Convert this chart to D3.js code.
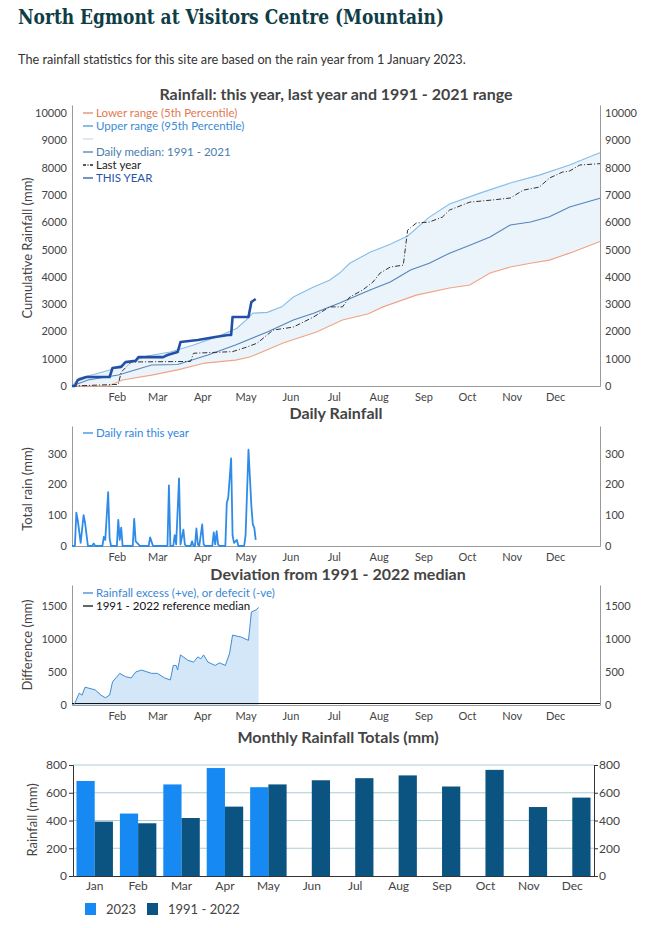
<!DOCTYPE html>
<html><head><meta charset="utf-8">
<script src="https://cdn.jsdelivr.net/npm/d3@7"></script>
<style>
body{margin:0;background:#fff}
svg text{font-family:Lato,"Open Sans",sans-serif}
</style>
</head><body>
<svg id="c" width="648" height="928"></svg>
<script>
// ---------- DATA ----------
const monthNames = ["Jan","Feb","Mar","Apr","May","Jun","Jul","Aug","Sep","Oct","Nov","Dec"];
const monthStartDays = [0,31,59,90,120,151,181,212,243,273,304,334];

// cumulative rainfall [dayOfYear, mm]
const pct5 = [[0,0],[25,0],[35,220],[55,400],[73,590],[92,840],[113,950],[123,1060],[146,1575],[169,1980],[187,2420],[205,2650],[215,2900],[238,3330],[261,3590],[275,3700],[289,4140],[303,4360],[317,4500],[330,4615],[344,4870],[365,5300]];
const pct95 = [[0,0],[5,290],[15,420],[26,590],[38,840],[52,1100],[68,1245],[84,1500],[100,1800],[114,2120],[122,2500],[125,2670],[135,2700],[145,2900],[153,3260],[167,3630],[178,3880],[185,4140],[192,4500],[206,4900],[220,5200],[232,5500],[247,6190],[261,6670],[282,7070],[303,7440],[323,7730],[344,8100],[360,8450],[365,8550]];
const median = [[0,0],[11,220],[32,400],[55,770],[73,790],[94,1135],[113,1500],[135,1980],[153,2420],[167,2670],[185,3040],[206,3520],[220,3810],[234,4250],[247,4500],[261,4870],[275,5160],[289,5460],[303,5900],[317,6010],[330,6200],[344,6560],[365,6880]];
const lastYear = [[0,0],[32,60],[34,510],[41,880],[82,900],[84,1200],[111,1260],[121,1430],[128,1570],[139,2050],[153,2160],[167,2530],[178,2900],[187,2900],[192,3260],[201,3520],[208,3810],[213,4140],[220,4360],[229,4430],[232,5710],[238,5970],[247,6010],[256,6190],[261,6450],[275,6740],[289,6810],[303,6890],[312,7180],[323,7290],[330,7620],[339,7840],[344,7880],[351,8100],[365,8150]];
const thisYear = [[0,0],[2,0],[4,220],[10,330],[26,330],[28,660],[34,700],[37,880],[44,920],[46,1060],[63,1060],[66,1135],[73,1245],[75,1610],[87,1685],[99,1795],[108,1870],[110,1870],[111,2530],[122,2530],[124,3080],[127,3190]];

// daily rain this year [day, mm]
const dailyRain = [[0,0],[2,0],[3,108],[4,83],[6,10],[8,100],[9,77],[11,0],[14,0],[15,8],[16,0],[21,0],[22,30],[23,20],[25,175],[26,25],[27,0],[31,0],[32,85],[33,20],[34,60],[35,0],[42,0],[43,88],[44,15],[46,5],[47,0],[53,0],[54,28],[56,0],[66,0],[67,197],[68,0],[70,0],[71,35],[72,5],[74,220],[75,5],[77,53],[78,5],[79,0],[82,0],[83,15],[84,0],[85,0],[86,57],[87,5],[88,0],[90,70],[91,5],[92,0],[97,0],[98,44],[99,5],[100,48],[101,5],[102,0],[106,0],[107,140],[108,157],[110,285],[111,35],[112,10],[114,20],[115,0],[119,0],[120,35],[122,313],[124,130],[125,70],[126,60],[127,20]];

// deviation from median [day, mm]
const deviation = [[1,0],[2,30],[5,180],[7,150],[9,270],[16,230],[20,150],[23,110],[26,150],[28,350],[33,480],[37,430],[41,410],[44,500],[48,530],[55,480],[59,480],[64,410],[68,380],[70,600],[72,600],[73,530],[75,760],[80,680],[84,650],[87,730],[89,700],[91,760],[94,650],[99,600],[102,640],[106,600],[109,790],[111,1060],[117,1030],[122,980],[124,1410],[127,1440],[129,1480]];

// monthly totals
const monthly2023 = [685,450,660,778,640];
const monthlyNormal = [392,380,418,500,660,690,705,725,645,765,497,565];
const seriesNames = ["2023","1991 - 2022"];

// ---------- DRAW ----------
const svg = d3.select("#c");
const TXT = "#444";
const fmt = d3.format("d");

svg.append("text").attr("x",18).attr("y",24)
  .style("font-family","'DejaVu Serif Condensed','DejaVu Serif',serif").style("font-weight","bold")
  .style("font-size","21px").attr("fill","#0f3d46")
  .attr("textLength",426).attr("lengthAdjust","spacingAndGlyphs")
  .text("North Egmont at Visitors Centre (Mountain)");
svg.append("text").attr("x",18).attr("y",64).style("font-size","12.7px").attr("fill","#333")
  .text("The rainfall statistics for this site are based on the rain year from 1 January 2023.");

const x = d3.scaleLinear().domain([0,365]).range([72,600]);

function title(t, cx, cy){
  svg.append("text").attr("x",cx).attr("y",cy).attr("text-anchor","middle")
    .style("font-size","16px").style("font-weight","bold").attr("fill",TXT).text(t);
}
function ylabel(t, cx, cy){
  svg.append("text").attr("transform",`translate(${cx},${cy}) rotate(-90)`).attr("text-anchor","middle")
    .style("font-size","13px").attr("fill",TXT).text(t);
}
function timeAxes(y, yTicks){
  const r = y.range();
  const gx = svg.append("g").attr("transform",`translate(0,${r[0]})`)
    .call(d3.axisBottom(x).tickValues(monthStartDays.slice(1)).tickFormat((d,i)=>monthNames[i+1]).tickSize(0).tickPadding(7));
  const gl = svg.append("g").attr("transform",`translate(72,0)`)
    .call(d3.axisLeft(y).tickValues(yTicks).tickFormat(fmt).tickSize(0).tickPadding(5));
  const gr = svg.append("g").attr("transform",`translate(600,0)`)
    .call(d3.axisRight(y).tickValues(yTicks).tickFormat(fmt).tickSize(0).tickPadding(5));
  [gx,gl,gr].forEach(g=>{
    g.select(".domain").attr("stroke","#9a9a9a");
    g.selectAll("text").attr("fill",TXT).style("font-size","11px").style("font-family","Lato,sans-serif");
  });
}
function legendRow(x0, y0, color, label, textColor, dash){
  svg.append("line").attr("x1",x0).attr("x2",x0+10).attr("y1",y0).attr("y2",y0)
    .attr("stroke",color).attr("stroke-width",1.3).attr("stroke-dasharray",dash||null);
  if(label) svg.append("text").attr("x",x0+13).attr("y",y0+4).style("font-size","11.5px")
    .attr("fill",textColor||color).text(label);
}

// ---- Chart 1: cumulative ----
title("Rainfall: this year, last year and 1991 - 2021 range", 336, 100);
const y1 = d3.scaleLinear().domain([0,10300]).range([386,105]);
const line1 = d3.line().x(d=>x(d[0])).y(d=>y1(d[1]));
svg.append("path").attr("d", line1(pct95.concat(pct5.slice().reverse()))+"Z").attr("fill","#ebf3fb");
timeAxes(y1, d3.range(0,10001,1000));
ylabel("Cumulative Rainfall (mm)", 32, 248);
svg.append("path").attr("d",line1(pct5)).attr("fill","none").attr("stroke","#f0a486").attr("stroke-width",1.1);
svg.append("path").attr("d",line1(pct95)).attr("fill","none").attr("stroke","#86bde8").attr("stroke-width",1.1);
svg.append("path").attr("d",line1(median)).attr("fill","none").attr("stroke","#5585ba").attr("stroke-width",1.1);
svg.append("path").attr("d",line1(lastYear)).attr("fill","none").attr("stroke","#333").attr("stroke-width",1).attr("stroke-dasharray","5,2,1,2");
svg.append("path").attr("d",line1(thisYear)).attr("fill","none").attr("stroke","#2350a6").attr("stroke-width",2.6).attr("stroke-linejoin","round");
legendRow(83,113,"#e58a63","Lower range (5th Percentile)","#e07a50");
legendRow(83,126,"#4d97d8","Upper range (95th Percentile)","#3b8bd2");
legendRow(83,139,"#c9dcee",null);
legendRow(83,152,"#4f7fb2","Daily median: 1991 - 2021","#4a7cae");
legendRow(83,165,"#222","Last year","#222","3,1.5,1,1.5");
legendRow(83,178,"#2a55aa","THIS YEAR","#2a55aa");

// ---- Chart 2: daily ----
title("Daily Rainfall", 336, 419);
const y2 = d3.scaleLinear().domain([0,390]).range([546,426]);
timeAxes(y2, [0,100,200,300]);
ylabel("Total rain (mm)", 32, 489);
svg.append("path").attr("d", d3.line().x(d=>x(d[0])).y(d=>y2(d[1]))(dailyRain))
  .attr("fill","none").attr("stroke","#2f8be6").attr("stroke-width",1.8).attr("stroke-linejoin","round");
legendRow(83,433,"#2f8be6","Daily rain this year","#2f86dc");

// ---- Chart 3: deviation ----
title("Deviation from 1991 - 2022 median", 338, 580);
const y3 = d3.scaleLinear().domain([0,1820]).range([705,585]);
svg.append("path").attr("d", d3.area().x(d=>x(d[0])).y0(y3(0)).y1(d=>y3(d[1]))(deviation)).attr("fill","#d4e7f8");
timeAxes(y3, [0,500,1000,1500]);
svg.append("line").attr("x1",x(0)).attr("x2",x(365)).attr("y1",y3(0)-1.5).attr("y2",y3(0)-1.5).attr("stroke","#111").attr("stroke-width",1);
svg.append("path").attr("d", d3.line().x(d=>x(d[0])).y(d=>y3(d[1]))(deviation))
  .attr("fill","none").attr("stroke","#3f8cd2").attr("stroke-width",1);
ylabel("Difference (mm)", 32, 645);
legendRow(83,593,"#3a8ad6","Rainfall excess (+ve), or defecit (-ve)","#3a88d4");
legendRow(83,606,"#111","1991 - 2022 reference median","#111");

// ---- Chart 4: monthly ----
title("Monthly Rainfall Totals (mm)", 338, 743);
const x0 = d3.scaleBand().domain(monthNames).range([73,594]).paddingInner(0.16).paddingOuter(0.08);
const x1 = d3.scaleBand().domain(seriesNames).range([0,x0.bandwidth()]);
const y4 = d3.scaleLinear().domain([0,800]).range([876,765]);
const colors = {"2023":"#168af2","1991 - 2022":"#0b5381"};
svg.append("g").selectAll("line").data([200,400,600,800]).join("line")
  .attr("x1",73).attr("x2",594).attr("y1",d=>y4(d)).attr("y2",d=>y4(d)).attr("stroke","#a9d0d2").attr("stroke-width",1);
const bars = [];
monthNames.forEach((m,i)=>{
  if(i<monthly2023.length) bars.push({m, s:"2023", v:monthly2023[i]});
  bars.push({m, s:"1991 - 2022", v:monthlyNormal[i]});
});
svg.append("g").selectAll("rect").data(bars).join("rect")
  .attr("x",d=>x0(d.m)+x1(d.s)).attr("width",x1.bandwidth())
  .attr("y",d=>y4(d.v)).attr("height",d=>y4(0)-y4(d.v)).attr("fill",d=>colors[d.s]);
const g4b = svg.append("g").attr("transform","translate(0,876)").call(d3.axisBottom(x0).tickSize(0).tickPadding(5));
const g4l = svg.append("g").attr("transform","translate(73,0)").call(d3.axisLeft(y4).tickValues([0,200,400,600,800]).tickSize(4).tickPadding(2));
const g4r = svg.append("g").attr("transform","translate(594,0)").call(d3.axisRight(y4).tickValues([0,200,400,600,800]).tickSize(4).tickPadding(1));
[g4b,g4l,g4r].forEach(g=>{
  g.select(".domain").attr("stroke","#333");
  g.selectAll(".tick line").attr("stroke","#333");
  g.selectAll("text").attr("fill",TXT).style("font-size","12px").style("font-family","Lato,sans-serif");
});
ylabel("Rainfall (mm)", 37, 820);
// legend
const lg = svg.append("g").selectAll("g").data(seriesNames).join("g")
  .attr("transform",(d,i)=>`translate(${[85,147][i]},903)`);
lg.append("rect").attr("width",11).attr("height",12).attr("fill",d=>colors[d]);
lg.append("text").attr("x",21).attr("y",11).style("font-size","13px").attr("fill",TXT).text(d=>d);
</script>
</body></html>
